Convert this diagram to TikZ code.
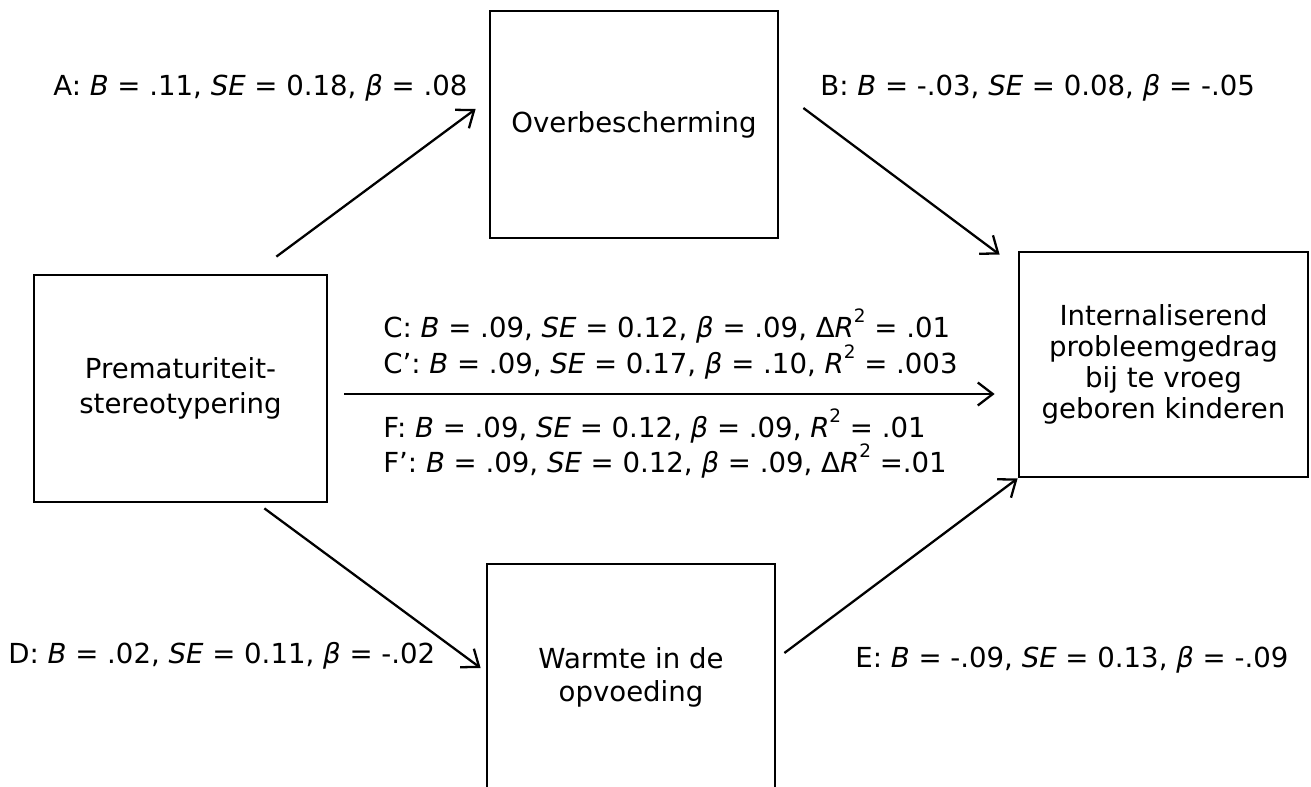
\documentclass[tikz,border=0pt]{standalone}
\usepackage{fontspec}
\setmainfont{DejaVu Sans}
\usetikzlibrary{arrows.meta}
\tikzset{>={Straight Barb[length=3mm,width=4.6mm]}}
\newcommand{\sqr}{\raisebox{8pt}{\fontsize{10.5}{10.5}\selectfont 2}}

\begin{document}
\begin{tikzpicture}[x=0.02cm, y=-0.02cm,
    every node/.style={font=\fontsize{15.7}{18}\selectfont},
    box/.style={draw, line width=1.6pt, align=center, minimum width=5.78cm, minimum height=4.54cm},
    lbl/.style={anchor=base west, inner sep=0pt},
    path/.style={->, line width=1.3pt}]
      \useasboundingbox (0, 0) rectangle (1311, 787);

      \node[box, minimum width=5.76cm](over) at (634, 124.5) {Overbescherming};
      \node[box, minimum width=5.86cm, font=\fontsize{15.7}{19.5}\selectfont](pre) at (180.5, 388.5) {Prematuriteit-\\stereotypering};
      \node[box, minimum height=4.5cm, font=\fontsize{15.7}{17.6}\selectfont](outc) at (1163.5, 364.5) {Internaliserend\\probleemgedrag\\bij te vroeg\\geboren kinderen};
      \node[box, minimum width=5.76cm, font=\fontsize{15.7}{18.7}\selectfont](warm) at (631, 677.5) {Warmte in de\\opvoeding};

      \draw[path] ([shift={(-52, -17)}]pre.north east) -- ([shift={(-13, -15.5)}]over.west);
      \draw[path] ([shift={(24, -16.5)}]over.east) -- ([shift={(-18, 4)}]outc.north west);
      \draw[path] ([shift={(16, 5.5)}]pre.east) -- ([shift={(-23, 29.5)}]outc.west);
      \draw[path] ([shift={(-64, 5)}]pre.south east) -- ([shift={(-5, -9.5)}]warm.west);
      \draw[path] ([shift={(8, -24.5)}]warm.east) -- (outc.south west);

      \node[lbl](labA) at (53, 96) {A: \textit{B} = .11, \textit{SE} = 0.18, \textit{β} = .08};
      \node[lbl](labB) at (820, 96) {B: \textit{B} = -.03, \textit{SE} = 0.08, \textit{β} = -.05};
      \node[lbl](labC) at (383, 337) {C: \textit{B} = .09, \textit{SE} = 0.12, \textit{β} = .09, Δ\textit{R}\sqr{} = .01};
      \node[lbl](labCp) at (383, 373) {C’: \textit{B} = .09, \textit{SE} = 0.17, \textit{β} = .10, \textit{R}\sqr{} = .003};
      \node[lbl](labF) at (383, 437) {F: \textit{B} = .09, \textit{SE} = 0.12, \textit{β} = .09, \textit{R}\sqr{} = .01};
      \node[lbl](labFp) at (383, 472) {F’: \textit{B} = .09, \textit{SE} = 0.12, \textit{β} = .09, Δ\textit{R}\sqr{} =.01};
      \node[lbl](labD) at (8, 663) {D: \textit{B} = .02, \textit{SE} = 0.11, \textit{β} = -.02};
      \node[lbl](labE) at (855, 667) {E: \textit{B} = -.09, \textit{SE} = 0.13, \textit{β} = -.09};
    \end{tikzpicture}
\end{document}
